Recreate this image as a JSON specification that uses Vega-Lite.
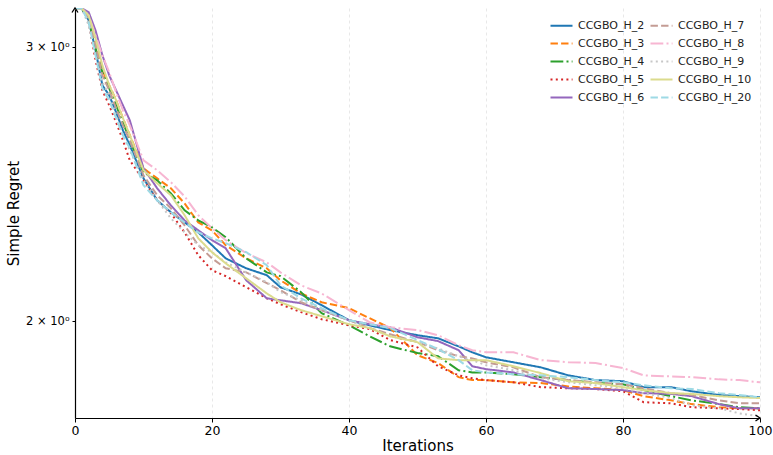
{
"$schema": "https://vega.github.io/schema/vega-lite/v6.json",
"width": 685, "height": 410,
"autosize": {"type": "none"},
"padding": {"left": 75, "top": 8, "right": 13, "bottom": 37},
"config": {"font": "DejaVu Sans", "view": {"stroke": null}, "background": "white"},
"layer": [
{
"data": {"values": [
{"s":"CCGBO_H_2","x":0,"y":3.178},{"s":"CCGBO_H_2","x":1,"y":3.178},{"s":"CCGBO_H_2","x":2,"y":3.122},{"s":"CCGBO_H_2","x":3,"y":2.987},{"s":"CCGBO_H_2","x":4,"y":2.836},{"s":"CCGBO_H_2","x":5,"y":2.794},{"s":"CCGBO_H_2","x":6,"y":2.725},{"s":"CCGBO_H_2","x":7,"y":2.653},{"s":"CCGBO_H_2","x":8,"y":2.595},{"s":"CCGBO_H_2","x":10,"y":2.471},{"s":"CCGBO_H_2","x":12,"y":2.392},{"s":"CCGBO_H_2","x":14,"y":2.350},{"s":"CCGBO_H_2","x":16,"y":2.315},{"s":"CCGBO_H_2","x":18,"y":2.281},{"s":"CCGBO_H_2","x":20,"y":2.238},{"s":"CCGBO_H_2","x":22,"y":2.195},{"s":"CCGBO_H_2","x":25,"y":2.163},{"s":"CCGBO_H_2","x":28,"y":2.141},{"s":"CCGBO_H_2","x":30,"y":2.103},{"s":"CCGBO_H_2","x":33,"y":2.081},{"s":"CCGBO_H_2","x":36,"y":2.048},{"s":"CCGBO_H_2","x":40,"y":2.003},{"s":"CCGBO_H_2","x":43,"y":1.988},{"s":"CCGBO_H_2","x":46,"y":1.974},{"s":"CCGBO_H_2","x":50,"y":1.959},{"s":"CCGBO_H_2","x":53,"y":1.950},{"s":"CCGBO_H_2","x":56,"y":1.927},{"s":"CCGBO_H_2","x":58,"y":1.910},{"s":"CCGBO_H_2","x":60,"y":1.896},{"s":"CCGBO_H_2","x":64,"y":1.882},{"s":"CCGBO_H_2","x":68,"y":1.868},{"s":"CCGBO_H_2","x":72,"y":1.846},{"s":"CCGBO_H_2","x":76,"y":1.833},{"s":"CCGBO_H_2","x":80,"y":1.830},{"s":"CCGBO_H_2","x":83,"y":1.814},{"s":"CCGBO_H_2","x":87,"y":1.814},{"s":"CCGBO_H_2","x":90,"y":1.803},{"s":"CCGBO_H_2","x":94,"y":1.793},{"s":"CCGBO_H_2","x":97,"y":1.790},{"s":"CCGBO_H_2","x":100,"y":1.787},
{"s":"CCGBO_H_3","x":0,"y":3.178},{"s":"CCGBO_H_3","x":1,"y":3.178},{"s":"CCGBO_H_3","x":2,"y":3.131},{"s":"CCGBO_H_3","x":3,"y":3.022},{"s":"CCGBO_H_3","x":4,"y":2.900},{"s":"CCGBO_H_3","x":5,"y":2.836},{"s":"CCGBO_H_3","x":6,"y":2.774},{"s":"CCGBO_H_3","x":7,"y":2.701},{"s":"CCGBO_H_3","x":8,"y":2.634},{"s":"CCGBO_H_3","x":10,"y":2.508},{"s":"CCGBO_H_3","x":12,"y":2.471},{"s":"CCGBO_H_3","x":14,"y":2.435},{"s":"CCGBO_H_3","x":16,"y":2.381},{"s":"CCGBO_H_3","x":18,"y":2.315},{"s":"CCGBO_H_3","x":20,"y":2.288},{"s":"CCGBO_H_3","x":22,"y":2.238},{"s":"CCGBO_H_3","x":25,"y":2.195},{"s":"CCGBO_H_3","x":28,"y":2.163},{"s":"CCGBO_H_3","x":30,"y":2.125},{"s":"CCGBO_H_3","x":33,"y":2.084},{"s":"CCGBO_H_3","x":36,"y":2.057},{"s":"CCGBO_H_3","x":40,"y":2.039},{"s":"CCGBO_H_3","x":43,"y":2.009},{"s":"CCGBO_H_3","x":46,"y":1.980},{"s":"CCGBO_H_3","x":50,"y":1.902},{"s":"CCGBO_H_3","x":53,"y":1.880},{"s":"CCGBO_H_3","x":56,"y":1.841},{"s":"CCGBO_H_3","x":58,"y":1.833},{"s":"CCGBO_H_3","x":60,"y":1.833},{"s":"CCGBO_H_3","x":64,"y":1.827},{"s":"CCGBO_H_3","x":68,"y":1.825},{"s":"CCGBO_H_3","x":72,"y":1.816},{"s":"CCGBO_H_3","x":76,"y":1.811},{"s":"CCGBO_H_3","x":80,"y":1.806},{"s":"CCGBO_H_3","x":83,"y":1.790},{"s":"CCGBO_H_3","x":87,"y":1.779},{"s":"CCGBO_H_3","x":90,"y":1.769},{"s":"CCGBO_H_3","x":94,"y":1.761},{"s":"CCGBO_H_3","x":97,"y":1.758},{"s":"CCGBO_H_3","x":100,"y":1.758},
{"s":"CCGBO_H_4","x":0,"y":3.178},{"s":"CCGBO_H_4","x":1,"y":3.178},{"s":"CCGBO_H_4","x":2,"y":3.122},{"s":"CCGBO_H_4","x":3,"y":2.996},{"s":"CCGBO_H_4","x":4,"y":2.891},{"s":"CCGBO_H_4","x":5,"y":2.823},{"s":"CCGBO_H_4","x":6,"y":2.753},{"s":"CCGBO_H_4","x":7,"y":2.685},{"s":"CCGBO_H_4","x":8,"y":2.614},{"s":"CCGBO_H_4","x":10,"y":2.493},{"s":"CCGBO_H_4","x":12,"y":2.464},{"s":"CCGBO_H_4","x":14,"y":2.417},{"s":"CCGBO_H_4","x":16,"y":2.357},{"s":"CCGBO_H_4","x":18,"y":2.322},{"s":"CCGBO_H_4","x":20,"y":2.298},{"s":"CCGBO_H_4","x":22,"y":2.265},{"s":"CCGBO_H_4","x":25,"y":2.195},{"s":"CCGBO_H_4","x":28,"y":2.150},{"s":"CCGBO_H_4","x":30,"y":2.138},{"s":"CCGBO_H_4","x":33,"y":2.088},{"s":"CCGBO_H_4","x":36,"y":2.024},{"s":"CCGBO_H_4","x":40,"y":1.988},{"s":"CCGBO_H_4","x":43,"y":1.956},{"s":"CCGBO_H_4","x":46,"y":1.927},{"s":"CCGBO_H_4","x":50,"y":1.908},{"s":"CCGBO_H_4","x":53,"y":1.899},{"s":"CCGBO_H_4","x":56,"y":1.860},{"s":"CCGBO_H_4","x":58,"y":1.854},{"s":"CCGBO_H_4","x":60,"y":1.854},{"s":"CCGBO_H_4","x":64,"y":1.849},{"s":"CCGBO_H_4","x":68,"y":1.841},{"s":"CCGBO_H_4","x":72,"y":1.833},{"s":"CCGBO_H_4","x":76,"y":1.825},{"s":"CCGBO_H_4","x":80,"y":1.822},{"s":"CCGBO_H_4","x":83,"y":1.806},{"s":"CCGBO_H_4","x":87,"y":1.790},{"s":"CCGBO_H_4","x":90,"y":1.779},{"s":"CCGBO_H_4","x":94,"y":1.769},{"s":"CCGBO_H_4","x":97,"y":1.761},{"s":"CCGBO_H_4","x":100,"y":1.758},
{"s":"CCGBO_H_5","x":0,"y":3.178},{"s":"CCGBO_H_5","x":1,"y":3.178},{"s":"CCGBO_H_5","x":2,"y":3.113},{"s":"CCGBO_H_5","x":3,"y":2.943},{"s":"CCGBO_H_5","x":4,"y":2.815},{"s":"CCGBO_H_5","x":5,"y":2.753},{"s":"CCGBO_H_5","x":6,"y":2.685},{"s":"CCGBO_H_5","x":7,"y":2.614},{"s":"CCGBO_H_5","x":8,"y":2.538},{"s":"CCGBO_H_5","x":10,"y":2.464},{"s":"CCGBO_H_5","x":12,"y":2.392},{"s":"CCGBO_H_5","x":14,"y":2.347},{"s":"CCGBO_H_5","x":16,"y":2.281},{"s":"CCGBO_H_5","x":18,"y":2.205},{"s":"CCGBO_H_5","x":20,"y":2.157},{"s":"CCGBO_H_5","x":22,"y":2.138},{"s":"CCGBO_H_5","x":25,"y":2.103},{"s":"CCGBO_H_5","x":28,"y":2.069},{"s":"CCGBO_H_5","x":30,"y":2.051},{"s":"CCGBO_H_5","x":33,"y":2.027},{"s":"CCGBO_H_5","x":36,"y":2.006},{"s":"CCGBO_H_5","x":40,"y":1.988},{"s":"CCGBO_H_5","x":43,"y":1.977},{"s":"CCGBO_H_5","x":46,"y":1.945},{"s":"CCGBO_H_5","x":50,"y":1.924},{"s":"CCGBO_H_5","x":53,"y":1.871},{"s":"CCGBO_H_5","x":56,"y":1.846},{"s":"CCGBO_H_5","x":58,"y":1.838},{"s":"CCGBO_H_5","x":60,"y":1.833},{"s":"CCGBO_H_5","x":64,"y":1.827},{"s":"CCGBO_H_5","x":68,"y":1.814},{"s":"CCGBO_H_5","x":72,"y":1.811},{"s":"CCGBO_H_5","x":76,"y":1.809},{"s":"CCGBO_H_5","x":80,"y":1.803},{"s":"CCGBO_H_5","x":83,"y":1.774},{"s":"CCGBO_H_5","x":87,"y":1.771},{"s":"CCGBO_H_5","x":90,"y":1.761},{"s":"CCGBO_H_5","x":94,"y":1.758},{"s":"CCGBO_H_5","x":97,"y":1.756},{"s":"CCGBO_H_5","x":100,"y":1.753},
{"s":"CCGBO_H_6","x":0,"y":3.178},{"s":"CCGBO_H_6","x":1,"y":3.178},{"s":"CCGBO_H_6","x":2,"y":3.160},{"s":"CCGBO_H_6","x":3,"y":3.076},{"s":"CCGBO_H_6","x":4,"y":2.965},{"s":"CCGBO_H_6","x":5,"y":2.878},{"s":"CCGBO_H_6","x":6,"y":2.815},{"s":"CCGBO_H_6","x":7,"y":2.753},{"s":"CCGBO_H_6","x":8,"y":2.693},{"s":"CCGBO_H_6","x":10,"y":2.508},{"s":"CCGBO_H_6","x":12,"y":2.435},{"s":"CCGBO_H_6","x":14,"y":2.374},{"s":"CCGBO_H_6","x":16,"y":2.322},{"s":"CCGBO_H_6","x":18,"y":2.288},{"s":"CCGBO_H_6","x":20,"y":2.255},{"s":"CCGBO_H_6","x":22,"y":2.228},{"s":"CCGBO_H_6","x":25,"y":2.125},{"s":"CCGBO_H_6","x":28,"y":2.069},{"s":"CCGBO_H_6","x":30,"y":2.063},{"s":"CCGBO_H_6","x":33,"y":2.054},{"s":"CCGBO_H_6","x":36,"y":2.033},{"s":"CCGBO_H_6","x":40,"y":2.003},{"s":"CCGBO_H_6","x":43,"y":1.991},{"s":"CCGBO_H_6","x":46,"y":1.982},{"s":"CCGBO_H_6","x":50,"y":1.953},{"s":"CCGBO_H_6","x":53,"y":1.942},{"s":"CCGBO_H_6","x":56,"y":1.916},{"s":"CCGBO_H_6","x":58,"y":1.871},{"s":"CCGBO_H_6","x":60,"y":1.863},{"s":"CCGBO_H_6","x":64,"y":1.854},{"s":"CCGBO_H_6","x":68,"y":1.833},{"s":"CCGBO_H_6","x":72,"y":1.811},{"s":"CCGBO_H_6","x":76,"y":1.809},{"s":"CCGBO_H_6","x":80,"y":1.806},{"s":"CCGBO_H_6","x":83,"y":1.798},{"s":"CCGBO_H_6","x":87,"y":1.796},{"s":"CCGBO_H_6","x":90,"y":1.790},{"s":"CCGBO_H_6","x":94,"y":1.769},{"s":"CCGBO_H_6","x":97,"y":1.758},{"s":"CCGBO_H_6","x":100,"y":1.758},
{"s":"CCGBO_H_7","x":0,"y":3.178},{"s":"CCGBO_H_7","x":1,"y":3.178},{"s":"CCGBO_H_7","x":2,"y":3.131},{"s":"CCGBO_H_7","x":3,"y":3.009},{"s":"CCGBO_H_7","x":4,"y":2.878},{"s":"CCGBO_H_7","x":5,"y":2.815},{"s":"CCGBO_H_7","x":6,"y":2.741},{"s":"CCGBO_H_7","x":7,"y":2.673},{"s":"CCGBO_H_7","x":8,"y":2.614},{"s":"CCGBO_H_7","x":10,"y":2.482},{"s":"CCGBO_H_7","x":12,"y":2.410},{"s":"CCGBO_H_7","x":14,"y":2.364},{"s":"CCGBO_H_7","x":16,"y":2.305},{"s":"CCGBO_H_7","x":18,"y":2.238},{"s":"CCGBO_H_7","x":20,"y":2.195},{"s":"CCGBO_H_7","x":22,"y":2.163},{"s":"CCGBO_H_7","x":25,"y":2.150},{"s":"CCGBO_H_7","x":28,"y":2.116},{"s":"CCGBO_H_7","x":30,"y":2.094},{"s":"CCGBO_H_7","x":33,"y":2.057},{"s":"CCGBO_H_7","x":36,"y":2.033},{"s":"CCGBO_H_7","x":40,"y":2.003},{"s":"CCGBO_H_7","x":43,"y":1.980},{"s":"CCGBO_H_7","x":46,"y":1.962},{"s":"CCGBO_H_7","x":50,"y":1.939},{"s":"CCGBO_H_7","x":53,"y":1.916},{"s":"CCGBO_H_7","x":56,"y":1.899},{"s":"CCGBO_H_7","x":58,"y":1.893},{"s":"CCGBO_H_7","x":60,"y":1.882},{"s":"CCGBO_H_7","x":64,"y":1.868},{"s":"CCGBO_H_7","x":68,"y":1.841},{"s":"CCGBO_H_7","x":72,"y":1.833},{"s":"CCGBO_H_7","x":76,"y":1.827},{"s":"CCGBO_H_7","x":80,"y":1.822},{"s":"CCGBO_H_7","x":83,"y":1.811},{"s":"CCGBO_H_7","x":87,"y":1.798},{"s":"CCGBO_H_7","x":90,"y":1.793},{"s":"CCGBO_H_7","x":94,"y":1.779},{"s":"CCGBO_H_7","x":97,"y":1.771},{"s":"CCGBO_H_7","x":100,"y":1.771},
{"s":"CCGBO_H_8","x":0,"y":3.178},{"s":"CCGBO_H_8","x":1,"y":3.178},{"s":"CCGBO_H_8","x":2,"y":3.145},{"s":"CCGBO_H_8","x":3,"y":3.054},{"s":"CCGBO_H_8","x":4,"y":2.965},{"s":"CCGBO_H_8","x":5,"y":2.891},{"s":"CCGBO_H_8","x":6,"y":2.807},{"s":"CCGBO_H_8","x":7,"y":2.733},{"s":"CCGBO_H_8","x":8,"y":2.673},{"s":"CCGBO_H_8","x":10,"y":2.538},{"s":"CCGBO_H_8","x":12,"y":2.501},{"s":"CCGBO_H_8","x":14,"y":2.457},{"s":"CCGBO_H_8","x":16,"y":2.406},{"s":"CCGBO_H_8","x":18,"y":2.340},{"s":"CCGBO_H_8","x":20,"y":2.295},{"s":"CCGBO_H_8","x":22,"y":2.255},{"s":"CCGBO_H_8","x":25,"y":2.212},{"s":"CCGBO_H_8","x":28,"y":2.182},{"s":"CCGBO_H_8","x":30,"y":2.150},{"s":"CCGBO_H_8","x":33,"y":2.109},{"s":"CCGBO_H_8","x":36,"y":2.084},{"s":"CCGBO_H_8","x":40,"y":2.033},{"s":"CCGBO_H_8","x":43,"y":1.997},{"s":"CCGBO_H_8","x":46,"y":1.982},{"s":"CCGBO_H_8","x":50,"y":1.974},{"s":"CCGBO_H_8","x":53,"y":1.959},{"s":"CCGBO_H_8","x":56,"y":1.930},{"s":"CCGBO_H_8","x":58,"y":1.916},{"s":"CCGBO_H_8","x":60,"y":1.910},{"s":"CCGBO_H_8","x":64,"y":1.910},{"s":"CCGBO_H_8","x":68,"y":1.888},{"s":"CCGBO_H_8","x":72,"y":1.882},{"s":"CCGBO_H_8","x":76,"y":1.880},{"s":"CCGBO_H_8","x":80,"y":1.866},{"s":"CCGBO_H_8","x":83,"y":1.846},{"s":"CCGBO_H_8","x":87,"y":1.843},{"s":"CCGBO_H_8","x":90,"y":1.841},{"s":"CCGBO_H_8","x":94,"y":1.835},{"s":"CCGBO_H_8","x":97,"y":1.833},{"s":"CCGBO_H_8","x":100,"y":1.827},
{"s":"CCGBO_H_9","x":0,"y":3.178},{"s":"CCGBO_H_9","x":1,"y":3.178},{"s":"CCGBO_H_9","x":2,"y":3.099},{"s":"CCGBO_H_9","x":3,"y":2.965},{"s":"CCGBO_H_9","x":4,"y":2.849},{"s":"CCGBO_H_9","x":5,"y":2.794},{"s":"CCGBO_H_9","x":6,"y":2.713},{"s":"CCGBO_H_9","x":7,"y":2.634},{"s":"CCGBO_H_9","x":8,"y":2.576},{"s":"CCGBO_H_9","x":10,"y":2.464},{"s":"CCGBO_H_9","x":12,"y":2.392},{"s":"CCGBO_H_9","x":14,"y":2.329},{"s":"CCGBO_H_9","x":16,"y":2.281},{"s":"CCGBO_H_9","x":18,"y":2.238},{"s":"CCGBO_H_9","x":20,"y":2.215},{"s":"CCGBO_H_9","x":22,"y":2.182},{"s":"CCGBO_H_9","x":25,"y":2.150},{"s":"CCGBO_H_9","x":28,"y":2.119},{"s":"CCGBO_H_9","x":30,"y":2.088},{"s":"CCGBO_H_9","x":33,"y":2.063},{"s":"CCGBO_H_9","x":36,"y":2.033},{"s":"CCGBO_H_9","x":40,"y":2.003},{"s":"CCGBO_H_9","x":43,"y":1.980},{"s":"CCGBO_H_9","x":46,"y":1.956},{"s":"CCGBO_H_9","x":50,"y":1.939},{"s":"CCGBO_H_9","x":53,"y":1.921},{"s":"CCGBO_H_9","x":56,"y":1.899},{"s":"CCGBO_H_9","x":58,"y":1.888},{"s":"CCGBO_H_9","x":60,"y":1.874},{"s":"CCGBO_H_9","x":64,"y":1.860},{"s":"CCGBO_H_9","x":68,"y":1.838},{"s":"CCGBO_H_9","x":72,"y":1.827},{"s":"CCGBO_H_9","x":76,"y":1.819},{"s":"CCGBO_H_9","x":80,"y":1.811},{"s":"CCGBO_H_9","x":83,"y":1.798},{"s":"CCGBO_H_9","x":87,"y":1.785},{"s":"CCGBO_H_9","x":90,"y":1.766},{"s":"CCGBO_H_9","x":94,"y":1.758},{"s":"CCGBO_H_9","x":97,"y":1.745},{"s":"CCGBO_H_9","x":100,"y":1.737},
{"s":"CCGBO_H_10","x":0,"y":3.178},{"s":"CCGBO_H_10","x":1,"y":3.178},{"s":"CCGBO_H_10","x":2,"y":3.145},{"s":"CCGBO_H_10","x":3,"y":3.040},{"s":"CCGBO_H_10","x":4,"y":2.921},{"s":"CCGBO_H_10","x":5,"y":2.836},{"s":"CCGBO_H_10","x":6,"y":2.774},{"s":"CCGBO_H_10","x":7,"y":2.701},{"s":"CCGBO_H_10","x":8,"y":2.634},{"s":"CCGBO_H_10","x":10,"y":2.501},{"s":"CCGBO_H_10","x":12,"y":2.453},{"s":"CCGBO_H_10","x":14,"y":2.410},{"s":"CCGBO_H_10","x":16,"y":2.340},{"s":"CCGBO_H_10","x":18,"y":2.261},{"s":"CCGBO_H_10","x":20,"y":2.215},{"s":"CCGBO_H_10","x":22,"y":2.179},{"s":"CCGBO_H_10","x":25,"y":2.131},{"s":"CCGBO_H_10","x":28,"y":2.084},{"s":"CCGBO_H_10","x":30,"y":2.057},{"s":"CCGBO_H_10","x":33,"y":2.033},{"s":"CCGBO_H_10","x":36,"y":2.015},{"s":"CCGBO_H_10","x":40,"y":1.991},{"s":"CCGBO_H_10","x":43,"y":1.980},{"s":"CCGBO_H_10","x":46,"y":1.956},{"s":"CCGBO_H_10","x":50,"y":1.939},{"s":"CCGBO_H_10","x":53,"y":1.893},{"s":"CCGBO_H_10","x":56,"y":1.888},{"s":"CCGBO_H_10","x":58,"y":1.888},{"s":"CCGBO_H_10","x":60,"y":1.888},{"s":"CCGBO_H_10","x":64,"y":1.871},{"s":"CCGBO_H_10","x":68,"y":1.852},{"s":"CCGBO_H_10","x":72,"y":1.830},{"s":"CCGBO_H_10","x":76,"y":1.825},{"s":"CCGBO_H_10","x":80,"y":1.814},{"s":"CCGBO_H_10","x":83,"y":1.806},{"s":"CCGBO_H_10","x":87,"y":1.798},{"s":"CCGBO_H_10","x":90,"y":1.796},{"s":"CCGBO_H_10","x":94,"y":1.790},{"s":"CCGBO_H_10","x":97,"y":1.787},{"s":"CCGBO_H_10","x":100,"y":1.785},
{"s":"CCGBO_H_20","x":0,"y":3.178},{"s":"CCGBO_H_20","x":1,"y":3.178},{"s":"CCGBO_H_20","x":2,"y":3.113},{"s":"CCGBO_H_20","x":3,"y":2.965},{"s":"CCGBO_H_20","x":4,"y":2.823},{"s":"CCGBO_H_20","x":5,"y":2.774},{"s":"CCGBO_H_20","x":6,"y":2.701},{"s":"CCGBO_H_20","x":7,"y":2.634},{"s":"CCGBO_H_20","x":8,"y":2.584},{"s":"CCGBO_H_20","x":10,"y":2.446},{"s":"CCGBO_H_20","x":12,"y":2.392},{"s":"CCGBO_H_20","x":14,"y":2.350},{"s":"CCGBO_H_20","x":16,"y":2.315},{"s":"CCGBO_H_20","x":18,"y":2.281},{"s":"CCGBO_H_20","x":20,"y":2.261},{"s":"CCGBO_H_20","x":22,"y":2.245},{"s":"CCGBO_H_20","x":25,"y":2.215},{"s":"CCGBO_H_20","x":28,"y":2.173},{"s":"CCGBO_H_20","x":30,"y":2.109},{"s":"CCGBO_H_20","x":33,"y":2.069},{"s":"CCGBO_H_20","x":36,"y":2.039},{"s":"CCGBO_H_20","x":40,"y":2.003},{"s":"CCGBO_H_20","x":43,"y":1.991},{"s":"CCGBO_H_20","x":46,"y":1.980},{"s":"CCGBO_H_20","x":50,"y":1.945},{"s":"CCGBO_H_20","x":53,"y":1.919},{"s":"CCGBO_H_20","x":56,"y":1.888},{"s":"CCGBO_H_20","x":58,"y":1.860},{"s":"CCGBO_H_20","x":60,"y":1.854},{"s":"CCGBO_H_20","x":64,"y":1.849},{"s":"CCGBO_H_20","x":68,"y":1.846},{"s":"CCGBO_H_20","x":72,"y":1.841},{"s":"CCGBO_H_20","x":76,"y":1.833},{"s":"CCGBO_H_20","x":80,"y":1.827},{"s":"CCGBO_H_20","x":83,"y":1.819},{"s":"CCGBO_H_20","x":87,"y":1.811},{"s":"CCGBO_H_20","x":90,"y":1.809},{"s":"CCGBO_H_20","x":94,"y":1.798},{"s":"CCGBO_H_20","x":97,"y":1.793},{"s":"CCGBO_H_20","x":100,"y":1.787}
]},
"mark": {"type": "line", "strokeWidth": 2, "clip": true},
"encoding": {
"x": {"field": "x", "type": "quantitative", "scale": {"domain": [0, 100], "nice": false, "zero": false},
 "axis": {"values": [0, 20, 40, 60, 80, 100], "title": "Iterations", "titleFontSize": 15, "titleFontWeight": "normal", "titleColor": "black", "titlePadding": 2, "labelFontSize": 12.5, "labelColor": "black", "labelPadding": 2, "tickColor": "black", "tickSize": 4, "domainColor": "black", "domainWidth": 1.2, "grid": true, "gridColor": "#e2e2e2", "gridDash": [3, 3], "gridWidth": 0.8, "labelFlush": false}},
"y": {"field": "y", "type": "quantitative", "scale": {"type": "log", "domain": [1.733, 3.18], "nice": false, "zero": false},
 "axis": {"values": [2, 3], "labelExpr": "datum.value + ' × 10⁰'", "title": "Simple Regret", "titleFontSize": 15, "titleFontWeight": "normal", "titleColor": "black", "titlePadding": 4, "labelFontSize": 11.5, "labelColor": "black", "labelPadding": 3, "tickColor": "black", "tickSize": 3, "domainColor": "black", "domainWidth": 1.2, "grid": false}},
"color": {"field": "s", "type": "nominal",
 "scale": {"domain": ["CCGBO_H_2", "CCGBO_H_3", "CCGBO_H_4", "CCGBO_H_5", "CCGBO_H_6", "CCGBO_H_7", "CCGBO_H_8", "CCGBO_H_9", "CCGBO_H_10", "CCGBO_H_20"],
 "range": ["#1f77b4", "#ff7f0e", "#2ca02c", "#d62728", "#9467bd", "#c49c94", "#f7b6d2", "#c7c7c7", "#dbdb8d", "#9edae5"]},
 "legend": {"title": null, "orient": "none", "legendX": 474, "legendY": 5, "columns": 2, "columnPadding": 1, "rowPadding": -12, "symbolType": "stroke", "symbolSize": 484, "symbolStrokeWidth": 2.2, "labelFontSize": 11, "labelColor": "#222222", "labelOffset": 4, "padding": 0}},
"strokeDash": {"field": "s", "type": "nominal",
 "scale": {"domain": ["CCGBO_H_2", "CCGBO_H_3", "CCGBO_H_4", "CCGBO_H_5", "CCGBO_H_6", "CCGBO_H_7", "CCGBO_H_8", "CCGBO_H_9", "CCGBO_H_10", "CCGBO_H_20"],
 "range": [[1, 0], [7.4, 3.2], [12.8, 3.2, 2, 3.2], [2, 3.3], [1, 0], [7.4, 3.2], [12.8, 3.2, 2, 3.2], [2, 3.3], [1, 0], [7.4, 3.2]]},
 "legend": {"title": null, "orient": "none", "legendX": 474, "legendY": 5, "columns": 2, "columnPadding": 1, "rowPadding": -12, "symbolType": "stroke", "symbolSize": 484, "symbolStrokeWidth": 2.2, "labelFontSize": 11, "labelColor": "#222222", "labelOffset": 4, "padding": 0}}
}
},
{
"data": {"values": [{"x": 100, "y": 1.733}]},
"mark": {"type": "point", "shape": "M -0.9 -0.6 L 0 0 L -0.9 0.6", "size": 100, "filled": false, "stroke": "black", "strokeWidth": 1.3, "opacity": 1, "clip": false},
"encoding": {"x": {"field": "x", "type": "quantitative"}, "y": {"field": "y", "type": "quantitative"}}
},
{
"data": {"values": [{"x": 0, "y": 3.18}]},
"mark": {"type": "point", "shape": "M -0.6 0.9 L 0 0 L 0.6 0.9", "size": 100, "filled": false, "stroke": "black", "strokeWidth": 1.3, "opacity": 1, "clip": false},
"encoding": {"x": {"field": "x", "type": "quantitative"}, "y": {"field": "y", "type": "quantitative"}}
}
]
}
